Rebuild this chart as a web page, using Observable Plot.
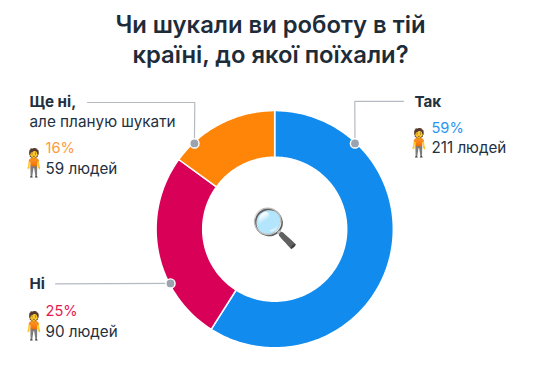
<!DOCTYPE html><html><head><meta charset="utf-8">
<style>
html,body{margin:0;background:#fff}
#title{height:80px;box-sizing:border-box;padding-top:10px;text-align:center;font:600 23.8px/30px Inter,sans-serif;color:#1e2c3a;width:541px}
svg{display:block}
g[aria-label="person"] text{letter-spacing:-14px}
</style>
<script src="https://cdn.jsdelivr.net/npm/d3@7"></script>
<script src="https://cdn.jsdelivr.net/npm/@observablehq/plot@0.6"></script>
</head><body>
<div id="title">Чи шукали ви роботу в тій<br>країні, до якої поїхали?</div>
<script>
// Data
const categories = ["Так", "Ні", "Ще ні"];
const percents = [59, 25, 16];
const counts = [211, 90, 59];
// slice shares as actually drawn in the reference (%)
const shares = [59, 26, 15];

// Style and layout, kept apart from the data
const colors = ["#118cee", "#d90057", "#ff8508"];
const textColors = ["#2a96f0", "#e6194f", "#ff9a3c"];
const cx = 274.2, cy = 228.7, R = 118.6, r = 72;
const leaderAngles = [43.1, 242.5, 316.9];
const elbows = [[[354.3, 100.8], [403, 100.8]], [[55, 283.3]], [[194.3, 102], [87, 102]]];
const headX = [414, 29, 29], headY = [106, 288, 106];
const pctX = [431, 45, 45], pctY = [132, 315, 152.7];
const cntY = [152, 336, 173];
const emojiX = [401.5, 16.5, 16.5];
const ink = "#22303f", leader = "#b5bac2";
const font = "Inter";

const pt = (deg, rad) => {
  const a = deg * Math.PI / 180;
  return [cx + rad * Math.sin(a), cy - rad * Math.cos(a)];
};

let start = 0;
const ring = categories.flatMap((category, i) => {
  const a0 = start, a1 = start + shares[i] * 3.6;
  start = a1;
  const n = Math.ceil(a1 - a0);
  const ts = d3.range(n + 1).map(k => a0 + (a1 - a0) * k / n);
  const path = [...ts.map(t => pt(t, R)), ...ts.reverse().map(t => pt(t, r))];
  path.push(path[0]);
  return path.map(([x, y]) => ({category, x, y}));
});

const dots = categories.map((category, i) => {
  const [x, y] = pt(leaderAngles[i], 117.5);
  return {category, x, y};
});
const leaders = categories.flatMap((category, i) =>
  [[dots[i].x, dots[i].y], ...elbows[i]].map(([x, y]) => ({category, x, y})));

const rows = categories.map((category, i) => ({
  category, percent: percents[i], count: counts[i], i
}));

const plot = Plot.plot({
  width: 541, height: 290,
  margin: 0,
  x: {domain: [0, 541], range: [0, 541], axis: null},
  y: {domain: [80, 370], range: [0, 290], axis: null},
  color: {domain: categories, range: colors},
  marks: [
    Plot.line(ring, {x: "x", y: "y", z: "category", fill: "category", stroke: "white", strokeWidth: 1.5, curve: "linear"}),
    Plot.line(leaders, {x: "x", y: "y", z: "category", stroke: leader, strokeWidth: 1.2, curve: "linear"}),
    Plot.dot(dots, {x: "x", y: "y", r: 4.6, fill: "#9aa3ae", stroke: "white", strokeWidth: 1.4}),
    Plot.text(["🔍"], {x: [cx], y: [cy], text: d => d, fontSize: 38, textAnchor: "middle", lineAnchor: "middle", fontFamily: "Noto Color Emoji"}),
    Plot.text(rows, {x: d => headX[d.i], y: d => headY[d.i], text: d => d.category === "Ще ні" ? "Ще ні," : d.category, textAnchor: "start", lineAnchor: "bottom", fontSize: 15.2, fontWeight: 700, fill: ink, fontFamily: font}),
    Plot.text(["але планую шукати"], {x: [29], y: [126.7], text: d => d, textAnchor: "start", lineAnchor: "bottom", fontSize: 15.3, fill: ink, fontFamily: font}),
    Plot.text(rows, {ariaLabel: "person", x: d => emojiX[d.i], y: d => pctY[d.i] + 19, text: () => "🧍", textAnchor: "start", lineAnchor: "bottom", fontSize: 27, fontFamily: "Noto Color Emoji"}),
    Plot.text(rows, {x: d => pctX[d.i], y: d => pctY[d.i], text: d => d.percent + "%", textAnchor: "start", lineAnchor: "bottom", fontSize: 14.6, fill: d => textColors[d.i], fontFamily: font}),
    Plot.text(rows, {x: d => pctX[d.i], y: d => cntY[d.i], text: d => d.count + " людей", textAnchor: "start", lineAnchor: "bottom", fontSize: 15.2, fill: ink, fontFamily: font})
  ]
});
document.body.appendChild(plot);
</script>
</body></html>
